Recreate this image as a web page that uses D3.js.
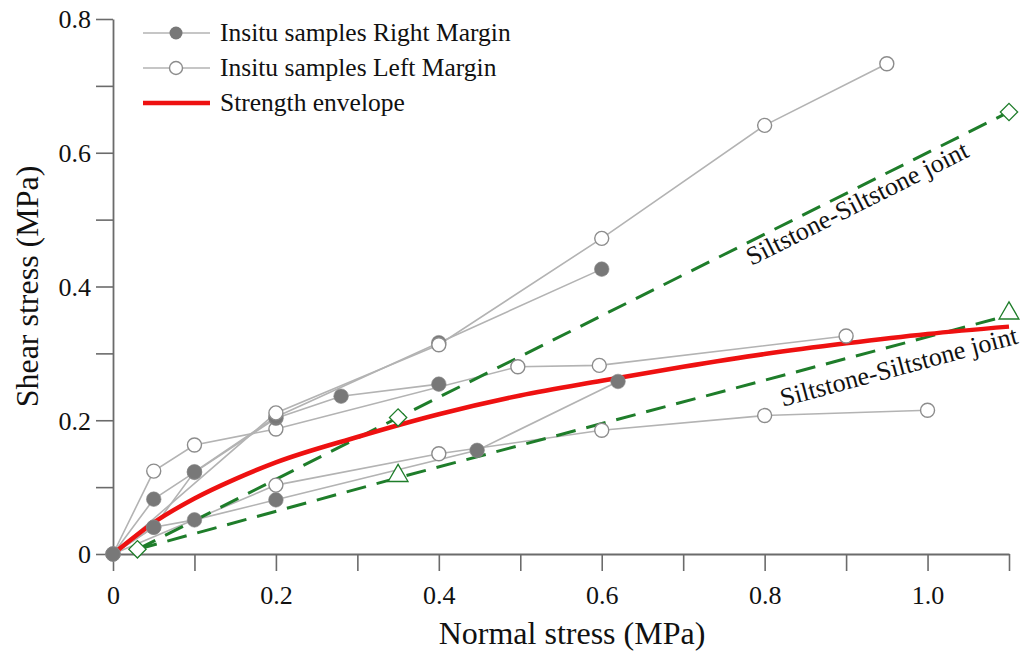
<!DOCTYPE html>
<html>
<head>
<meta charset="utf-8">
<script src="https://cdn.jsdelivr.net/npm/d3@7"></script>
<style>
  html, body { margin: 0; padding: 0; background: #fff; }
  svg { display: block; font-family: "Liberation Serif", "Times New Roman", serif; }
</style>
</head>
<body>
<svg id="chart" width="1023" height="655"></svg>
<script>
// ---------------- data ----------------
const xTickValues = [0, 0.1, 0.2, 0.3, 0.4, 0.5, 0.6, 0.7, 0.8, 0.9, 1.0, 1.1];
const xTickLabels = ["0", "", "0.2", "", "0.4", "", "0.6", "", "0.8", "", "1.0", ""];
const yTickValues = [0, 0.1, 0.2, 0.3, 0.4, 0.5, 0.6, 0.7, 0.8];
const yTickLabels = ["0", "", "0.2", "", "0.4", "", "0.6", "", "0.8"];

// Insitu samples, right margin (filled markers)
const rightMargin1 = [[0,0],[0.05,0.082],[0.1,0.122],[0.2,0.203],[0.28,0.236],[0.4,0.254]];
const rightMargin2 = [[0,0],[0.05,0.04],[0.1,0.123],[0.2,0.205],[0.4,0.316],[0.6,0.426]];
const rightMargin3 = [[0,0],[0.05,0.04],[0.1,0.051],[0.2,0.081],[0.447,0.155],[0.62,0.258]];
// Insitu samples, left margin (open markers)
const leftMargin1 = [[0,0],[0.05,0.124],[0.1,0.163],[0.2,0.187],[0.497,0.28],[0.597,0.282],[0.9,0.326]];
const leftMargin2 = [[0,0],[0.2,0.211],[0.4,0.313],[0.6,0.472],[0.8,0.641],[0.95,0.733]];
const leftMargin3 = [[0,0],[0.2,0.103],[0.4,0.15],[0.6,0.185],[0.8,0.207],[1.0,0.215]];

// Strength envelope
const envelope = [[0,0],[0.05,0.047],[0.1,0.083],[0.15,0.112],[0.2,0.137],[0.3,0.175],[0.4,0.209],
                  [0.5,0.237],[0.6,0.259],[0.7,0.28],[0.8,0.299],[0.9,0.315],[1.0,0.329],[1.1,0.34]];

// Siltstone-Siltstone joints
const jointDiamond = [[0.03,0.007],[0.35,0.204],[1.1,0.661]];
const jointTriangle = [[0.03,0.007],[0.35,0.114],[1.1,0.357]];

const legendLabels = ["Insitu samples Right Margin", "Insitu samples Left Margin", "Strength envelope"];
const jointLabel = "Siltstone-Siltstone joint";
const xTitle = "Normal stress (MPa)";
const yTitle = "Shear stress (MPa)";

// ---------------- layout ----------------
const svg = d3.select("#chart");
const x = d3.scaleLinear().domain([0, 1.1]).range([113, 1009]);
const y = d3.scaleLinear().domain([0, 0.8]).range([554, 19]);

const axisColor = "#6b6b6b";
const grayLine = "#b3b3b3";
const fillGray = "#787878";
const openStroke = "#8c8c8c";
const green = "#1e7d2a";
const red = "#ee1111";

// axes
const xAxis = d3.axisBottom(x).tickValues(xTickValues)
  .tickFormat((d, i) => xTickLabels[i]).tickSize(17).tickSizeOuter(0).tickPadding(10);
const yAxis = d3.axisLeft(y).tickValues(yTickValues)
  .tickFormat((d, i) => yTickLabels[i]).tickSize(17).tickSizeOuter(0).tickPadding(5);

const gx = svg.append("g").attr("transform", `translate(0,${y(0)})`).call(xAxis);
const gy = svg.append("g").attr("transform", `translate(${x(0)},0)`).call(yAxis);
[gx, gy].forEach(g => {
  g.select(".domain").attr("stroke", axisColor).attr("stroke-width", 1.8);
  g.selectAll(".tick line").attr("stroke", axisColor).attr("stroke-width", 1.6);
  g.selectAll(".tick text").attr("fill", "#111").attr("font-size", 26)
    .attr("font-family", "Liberation Serif, Times New Roman, serif");
});
gx.selectAll(".tick text").attr("dy", "0.9em");
gy.selectAll(".tick text").attr("dy", "0.34em");

// axis titles
svg.append("text").attr("x", 572).attr("y", 644).attr("text-anchor", "middle")
  .attr("font-size", 32).attr("fill", "#111").text(xTitle);
svg.append("text").attr("transform", `translate(38,${(y(0)+y(0.8))/2}) rotate(-90)`)
  .attr("text-anchor", "middle").attr("font-size", 32).attr("fill", "#111").text(yTitle);

// sample lines
const line = d3.line().x(d => x(d[0])).y(d => y(d[1]));
const allSeries = [leftMargin3, rightMargin3, rightMargin1, rightMargin2, leftMargin1, leftMargin2];
svg.append("g").selectAll("path").data(allSeries).join("path")
  .attr("d", line).attr("fill", "none").attr("stroke", grayLine).attr("stroke-width", 1.6);

// joint dashed lines
[jointDiamond, jointTriangle].forEach(s => {
  svg.append("path").attr("d", line(s)).attr("fill", "none").attr("stroke", green)
    .attr("stroke-width", 3).attr("stroke-dasharray", "20,11");
});

// strength envelope
svg.append("path").attr("d", d3.line().x(d => x(d[0])).y(d => y(d[1])).curve(d3.curveMonotoneX)(envelope))
  .attr("fill", "none").attr("stroke", red).attr("stroke-width", 4.5).attr("stroke-linecap", "butt");

// joint markers
svg.append("g").selectAll("path").data(jointDiamond).join("path")
  .attr("transform", d => `translate(${x(d[0])},${y(d[1])}) rotate(45)`)
  .attr("d", d3.symbol().type(d3.symbolSquare).size(150)())
  .attr("fill", "#fff").attr("stroke", green).attr("stroke-width", 1.3);
svg.append("g").selectAll("path").data(jointTriangle.slice(1)).join("path")
  .attr("transform", d => `translate(${x(d[0])},${y(d[1]) - 2})`)
  .attr("d", d3.symbol().type(d3.symbolTriangle).size(170)())
  .attr("fill", "#fff").attr("stroke", green).attr("stroke-width", 1.3);

// sample markers
function openMarkers(s) {
  svg.append("g").selectAll("circle").data(s.filter(d => d[0] > 0)).join("circle")
    .attr("cx", d => x(d[0])).attr("cy", d => y(d[1])).attr("r", 7)
    .attr("fill", "#fff").attr("stroke", openStroke).attr("stroke-width", 1.4);
}
function filledMarkers(s) {
  svg.append("g").selectAll("circle").data(s).join("circle")
    .attr("cx", d => x(d[0])).attr("cy", d => y(d[1])).attr("r", 7.3)
    .attr("fill", fillGray).attr("stroke", "#8a8a8a").attr("stroke-width", 0.6);
}
openMarkers(leftMargin3);
openMarkers(leftMargin1);
filledMarkers(rightMargin3);
filledMarkers(rightMargin1);
filledMarkers(rightMargin2);
openMarkers(leftMargin2);

// joint labels, parallel to the dashed lines
function angleOf(s) {
  const a = s[0], b = s[s.length - 1];
  return Math.atan2(y(b[1]) - y(a[1]), x(b[0]) - x(a[0])) * 180 / Math.PI;
}
svg.append("text").attr("transform", `translate(861,211) rotate(${angleOf(jointDiamond)})`)
  .attr("text-anchor", "middle").attr("font-size", 26).attr("fill", "#111").text(jointLabel);
svg.append("text").attr("transform", `translate(901,375) rotate(${angleOf(jointTriangle)})`)
  .attr("text-anchor", "middle").attr("font-size", 26).attr("fill", "#111").text(jointLabel);

// legend
const legendY = [33, 68, 103];
const lg = svg.append("g");
lg.append("line").attr("x1", 143).attr("x2", 210).attr("y1", legendY[0]).attr("y2", legendY[0])
  .attr("stroke", grayLine).attr("stroke-width", 1.6);
lg.append("circle").attr("cx", 176).attr("cy", legendY[0]).attr("r", 6.5).attr("fill", fillGray);
lg.append("line").attr("x1", 143).attr("x2", 210).attr("y1", legendY[1]).attr("y2", legendY[1])
  .attr("stroke", grayLine).attr("stroke-width", 1.6);
lg.append("circle").attr("cx", 176).attr("cy", legendY[1]).attr("r", 6.5)
  .attr("fill", "#fff").attr("stroke", openStroke).attr("stroke-width", 1.4);
lg.append("line").attr("x1", 143).attr("x2", 210).attr("y1", legendY[2]).attr("y2", legendY[2])
  .attr("stroke", red).attr("stroke-width", 4.5);
lg.selectAll("text").data(legendLabels).join("text")
  .attr("x", 220).attr("y", (d, i) => legendY[i]).attr("dy", "0.33em")
  .attr("font-size", 25.5).attr("fill", "#111").text(d => d);
</script>
</body>
</html>
